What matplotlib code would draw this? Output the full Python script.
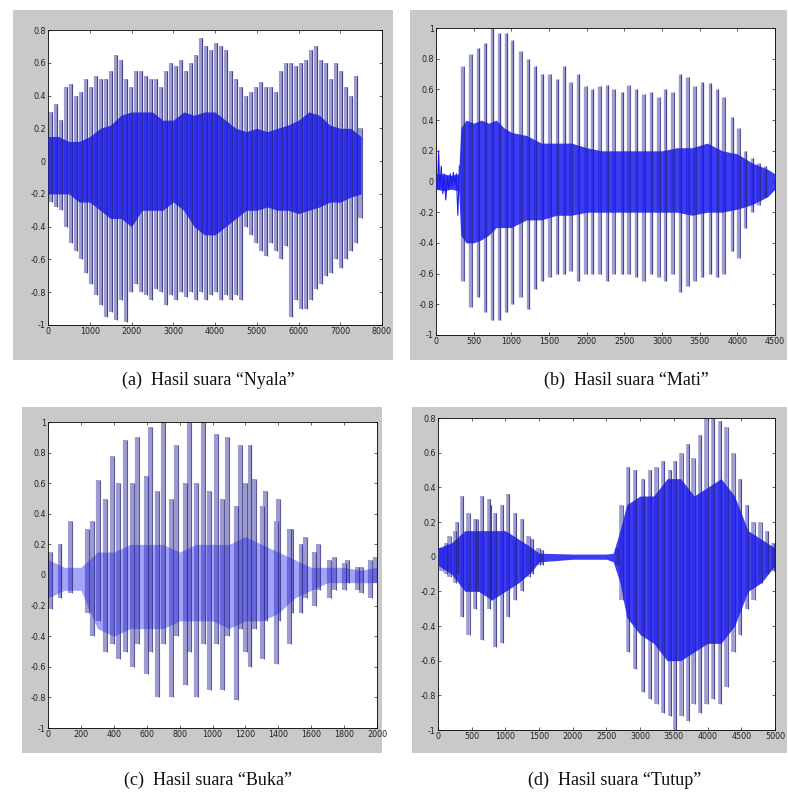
import numpy as np
import matplotlib
matplotlib.use("Agg")
from matplotlib import pyplot as plt
from matplotlib.patches import Rectangle

# ---- (a) Nyala ----
a_pos = [60, 180, 300, 420, 540, 660, 780, 900, 1020, 1140, 1260, 1380, 1500, 1620, 1740, 1860,
         1980, 2100, 2220, 2340, 2460, 2580, 2700, 2820, 2940, 3060, 3180, 3300, 3420, 3540, 3660,
         3780, 3900, 4020, 4140, 4260, 4380, 4500, 4620, 4740, 4860, 4980, 5100, 5220, 5340, 5460,
         5580, 5700, 5820, 5940, 6060, 6180, 6300, 6420, 6540, 6660, 6780, 6900, 7020, 7140, 7260,
         7380, 7480]
a_top = [0.3, 0.35, 0.25, 0.45, 0.47, 0.4, 0.42, 0.5, 0.45, 0.52, 0.5, 0.5, 0.55, 0.65, 0.62, 0.5,
         0.45, 0.55, 0.55, 0.52, 0.5, 0.5, 0.45, 0.55, 0.6, 0.58, 0.62, 0.55, 0.6, 0.65, 0.75,
         0.7, 0.68, 0.72, 0.7, 0.68, 0.55, 0.5, 0.45, 0.4, 0.42, 0.45, 0.48, 0.45, 0.45, 0.42,
         0.55, 0.6, 0.6, 0.58, 0.6, 0.62, 0.68, 0.7, 0.62, 0.6, 0.5, 0.6, 0.55, 0.45, 0.4,
         0.52, 0.2]
a_bot = [-0.25, -0.28, -0.3, -0.4, -0.5, -0.55, -0.6, -0.68, -0.75, -0.82, -0.88, -0.95, -0.92, -0.97, -0.85, -0.98,
         -0.8, -0.75, -0.8, -0.82, -0.85, -0.78, -0.8, -0.88, -0.82, -0.85, -0.8, -0.83, -0.8, -0.85, -0.8,
         -0.85, -0.82, -0.8, -0.85, -0.82, -0.85, -0.82, -0.85, -0.4, -0.45, -0.5, -0.55, -0.58, -0.5, -0.55,
         -0.6, -0.52, -0.95, -0.85, -0.9, -0.9, -0.85, -0.78, -0.75, -0.7, -0.68, -0.6, -0.65, -0.6, -0.55,
         -0.5, -0.35]
a_core_x = [0, 250, 500, 750, 1000, 1250, 1500, 1750, 2000, 2250, 2500, 2750, 3000, 3250, 3500, 3750,
            4000, 4250, 4500, 4750, 5000, 5250, 5500, 5750, 6000, 6250, 6500, 6750, 7000, 7250, 7500]
a_core_up = [0.15, 0.15, 0.12, 0.12, 0.15, 0.2, 0.22, 0.28, 0.3, 0.3, 0.3, 0.25, 0.25, 0.3, 0.28, 0.3,
             0.3, 0.25, 0.2, 0.18, 0.2, 0.18, 0.2, 0.22, 0.25, 0.3, 0.28, 0.22, 0.2, 0.2, 0.15]
a_core_lo = [-0.2, -0.2, -0.2, -0.25, -0.25, -0.3, -0.35, -0.35, -0.4, -0.3, -0.3, -0.3, -0.25, -0.3, -0.4, -0.45,
             -0.45, -0.4, -0.35, -0.3, -0.3, -0.28, -0.3, -0.3, -0.32, -0.3, -0.28, -0.25, -0.25, -0.22, -0.2]

# ---- (b) Mati ----
b_pos = [350, 455, 556, 645, 742, 831, 928, 1008, 1118, 1220, 1308, 1405, 1503, 1604, 1693,
         1782, 1883, 1980, 2070, 2166, 2268, 2356, 2467, 2555, 2652, 2754, 2855, 2952, 3041, 3139,
         3240, 3338, 3431, 3528, 3638, 3727, 3815, 3925, 4013, 4102, 4190, 4280, 4368]
b_top = [0.75, 0.83, 0.87, 0.9, 1.0, 0.97, 0.97, 0.92, 0.85, 0.8, 0.75, 0.7, 0.7, 0.67, 0.75,
         0.65, 0.7, 0.62, 0.6, 0.62, 0.63, 0.6, 0.58, 0.63, 0.6, 0.57, 0.58, 0.55, 0.6, 0.58,
         0.7, 0.68, 0.62, 0.65, 0.64, 0.6, 0.55, 0.42, 0.35, 0.2, 0.15, 0.12, 0.1]
b_bot = [-0.65, -0.82, -0.75, -0.85, -0.9, -0.9, -0.85, -0.8, -0.75, -0.83, -0.7, -0.65, -0.62, -0.6, -0.6,
         -0.58, -0.65, -0.6, -0.6, -0.6, -0.65, -0.6, -0.6, -0.6, -0.62, -0.65, -0.6, -0.62, -0.65, -0.6,
         -0.72, -0.68, -0.65, -0.62, -0.6, -0.62, -0.6, -0.45, -0.5, -0.3, -0.2, -0.15, -0.1]
b_pre_x = [0, 20, 35, 50, 70, 90, 110, 130, 150, 170, 190, 210, 230, 250, 270, 290, 310]
b_pre_y = [0, -0.05, 0.2, -0.05, 0.1, -0.08, 0.05, -0.12, 0.03, -0.05, 0.05, -0.03, 0.06, -0.02, 0.05, -0.22, 0.1]
b_core_x = [0, 100, 200, 300, 330, 400, 500, 600, 700, 800, 900, 1000, 1200, 1400, 1600, 1800, 2000,
            2200, 2400, 2600, 2800, 3000, 3200, 3400, 3600, 3800, 4000, 4200, 4400, 4500]
b_core_up = [0.05, 0.05, 0.04, 0.05, 0.35, 0.4, 0.38, 0.4, 0.38, 0.4, 0.35, 0.32, 0.3, 0.25, 0.25, 0.25, 0.22,
             0.2, 0.2, 0.2, 0.2, 0.2, 0.22, 0.22, 0.25, 0.2, 0.18, 0.12, 0.08, 0.05]
b_core_lo = [-0.05, -0.06, -0.05, -0.06, -0.35, -0.4, -0.4, -0.38, -0.35, -0.3, -0.3, -0.3, -0.25, -0.25, -0.22, -0.22, -0.2,
             -0.2, -0.2, -0.2, -0.2, -0.2, -0.2, -0.22, -0.2, -0.2, -0.18, -0.15, -0.1, -0.05]

# ---- (c) Buka ----
c_pos = [15, 70, 135, 235, 265, 305, 345, 390, 425, 470, 510, 540, 595, 620, 665, 700, 745, 780,
         830, 860, 900, 940, 980, 1020, 1060, 1090, 1140, 1165, 1200, 1225, 1250, 1300, 1320, 1385,
         1400, 1465, 1480, 1535, 1560, 1615, 1640, 1710, 1740, 1800, 1820, 1880, 1900, 1960, 1985]
c_top = [0.15, 0.2, 0.35, 0.3, 0.35, 0.62, 0.5, 0.78, 0.6, 0.88, 0.6, 0.9, 0.65, 0.97, 0.55, 1.0, 0.5, 0.85,
         0.6, 1.0, 0.6, 1.0, 0.55, 0.92, 0.5, 0.9, 0.45, 0.85, 0.6, 0.85, 0.63, 0.45, 0.55, 0.35,
         0.5, 0.3, 0.3, 0.2, 0.25, 0.15, 0.2, 0.1, 0.12, 0.08, 0.1, 0.05, 0.05, 0.1, 0.12]
c_bot = [-0.22, -0.15, -0.12, -0.25, -0.4, -0.3, -0.5, -0.45, -0.55, -0.5, -0.6, -0.45, -0.65, -0.5, -0.8, -0.45, -0.8, -0.4,
         -0.72, -0.5, -0.8, -0.45, -0.75, -0.45, -0.75, -0.4, -0.82, -0.35, -0.5, -0.6, -0.35, -0.55, -0.3, -0.58,
         -0.3, -0.45, -0.25, -0.25, -0.15, -0.2, -0.1, -0.15, -0.1, -0.1, -0.05, -0.1, -0.12, -0.15, -0.05]
c_core_x = [0, 100, 200, 300, 400, 500, 600, 700, 800, 900, 1000, 1100, 1200, 1300, 1400, 1500,
            1600, 1700, 1800, 1900, 2000]
c_core_up = [0.1, 0.05, 0.05, 0.15, 0.15, 0.2, 0.2, 0.2, 0.15, 0.2, 0.2, 0.2, 0.25, 0.2, 0.15, 0.1,
             0.05, 0.05, 0.05, 0.03, 0.05]
c_core_lo = [-0.15, -0.1, -0.1, -0.35, -0.4, -0.35, -0.35, -0.35, -0.3, -0.3, -0.3, -0.35, -0.3, -0.3, -0.25, -0.15,
             -0.1, -0.05, -0.05, -0.05, -0.05]

# ---- (d) Tutup ----
d_pos = [50, 120, 170, 250, 280, 350, 450, 545, 570, 655, 750, 770, 845, 945, 1040, 1140, 1240, 1340,
         1390, 1490, 1540,
         2650, 2720, 2820, 2920, 3040, 3140, 3240, 3340, 3440, 3510, 3610, 3710, 3790, 3880, 3980,
         4080, 4180, 4280, 4380, 4480, 4580, 4680, 4780, 4880, 4970]
d_top = [0.05, 0.08, 0.12, 0.15, 0.2, 0.35, 0.25, 0.22, 0.22, 0.35, 0.33, 0.3, 0.25, 0.3, 0.36, 0.25, 0.22, 0.12,
         0.1, 0.05, 0.04,
         0.05, 0.3, 0.52, 0.5, 0.45, 0.5, 0.52, 0.55, 0.5, 0.55, 0.6, 0.65, 0.57, 0.7, 0.8,
         0.8, 0.78, 0.75, 0.6, 0.45, 0.3, 0.2, 0.2, 0.15, 0.08]
d_bot = [-0.08, -0.1, -0.12, -0.15, -0.1, -0.35, -0.45, -0.3, -0.2, -0.48, -0.3, -0.25, -0.52, -0.5, -0.35, -0.25, -0.2, -0.12,
         -0.1, -0.05, -0.05,
         -0.05, -0.25, -0.55, -0.65, -0.78, -0.82, -0.85, -0.9, -0.92, -1.0, -0.92, -0.95, -0.85, -0.9, -0.85,
         -0.82, -0.85, -0.75, -0.55, -0.45, -0.3, -0.25, -0.15, -0.1, -0.08]
d_core_x = [0, 200, 400, 600, 800, 1000, 1200, 1400, 1500, 2000, 2500, 2600, 2700, 2800, 3000, 3200,
            3400, 3600, 3800, 4000, 4200, 4400, 4600, 4800, 5000]
d_core_up = [0.05, 0.08, 0.15, 0.15, 0.15, 0.15, 0.1, 0.05, 0.02, 0.015, 0.015, 0.02, 0.15, 0.3, 0.35, 0.35,
             0.45, 0.45, 0.35, 0.4, 0.45, 0.35, 0.15, 0.1, 0.05]
d_core_lo = [-0.05, -0.1, -0.2, -0.2, -0.25, -0.2, -0.15, -0.08, -0.03, -0.015, -0.015, -0.03, -0.15, -0.35, -0.45, -0.5,
             -0.6, -0.6, -0.55, -0.5, -0.5, -0.4, -0.2, -0.15, -0.05]

captions = ["(a)  Hasil suara \u201cNyala\u201d", "(b)  Hasil suara \u201cMati\u201d",
            "(c)  Hasil suara \u201cBuka\u201d", "(d)  Hasil suara \u201cTutup\u201d"]

GREY = "#c9c9c9"
LIGHT = "#9c9cd0"
DARK = "#26267e"
CORE = "#1a1af0"


def panel(fig, frame, box, pos, top, bot, cx, cup, clo, xmax, ytop, xstep,
          lw=2.0, off=0.004, core_alpha=0.85):
    fig.patches.append(Rectangle(frame[:2], frame[2], frame[3], transform=fig.transFigure,
                                 facecolor=GREY, edgecolor="none", zorder=-10))
    ax = fig.add_axes(box)
    ax.set_zorder(1)
    ax.set_facecolor("white")
    ax.vlines(pos, bot, top, color=LIGHT, lw=lw, zorder=2)
    ax.fill_between(cx, clo, cup, color=CORE, lw=0, alpha=core_alpha, zorder=3)
    ax.vlines(np.array(pos) + off * xmax, bot, top, color=DARK, lw=0.8, alpha=0.75, zorder=4)
    ax.set_xlim(0, xmax)
    ax.set_ylim(-1, ytop)
    ax.set_xticks(np.arange(0, xmax + 1, xstep))
    yt = np.round(np.arange(-1, ytop + 0.01, 0.2), 1) + 0.0
    ax.set_yticks(yt)
    ax.set_yticklabels(["0" if abs(v) < 1e-9 else "%g" % v for v in yt])
    ax.tick_params(direction="in", length=2.5, width=0.5, labelsize=5.8, pad=1.5,
                   top=True, right=True, colors="#222222")
    for s in ax.spines.values():
        s.set_linewidth(0.6)
    return ax


fig = plt.figure(figsize=(7.88, 7.96), dpi=100)
W, H = 788.0, 796.0


def fr(x0, y0, x1, y1):
    return [x0 / W, (H - y1) / H, (x1 - x0) / W, (y1 - y0) / H]


panel(fig, fr(13, 10, 393, 360), fr(48, 30, 382, 325), a_pos, a_top, a_bot,
      a_core_x, a_core_up, a_core_lo, 8000, 0.8, 1000, lw=3.0)
axb = panel(fig, fr(410, 10, 787, 360), fr(436, 28, 775, 335), b_pos, b_top, b_bot,
            b_core_x, b_core_up, b_core_lo, 4500, 1.0, 500, lw=2.4)
axb.plot(b_pre_x, b_pre_y, color=CORE, lw=0.8, zorder=5)
panel(fig, fr(22, 407, 382, 753), fr(48, 422, 377, 728), c_pos, c_top, c_bot,
      c_core_x, c_core_up, c_core_lo, 2000, 1.0, 200, lw=3.0, off=0.006, core_alpha=0.4)
panel(fig, fr(412, 407, 787, 753), fr(438, 418, 775, 730), d_pos, d_top, d_bot,
      d_core_x, d_core_up, d_core_lo, 5000, 0.8, 500, lw=2.6)

cap_xy = [(208, 380), (626, 380), (208, 780), (615, 780)]
for (x, y), t in zip(cap_xy, captions):
    fig.text(x / W, 1 - y / H, t, ha="center", va="center", fontsize=13,
             family=["Liberation Serif", "DejaVu Serif"], color="#111111")

fig.savefig("out.png", dpi=100)
